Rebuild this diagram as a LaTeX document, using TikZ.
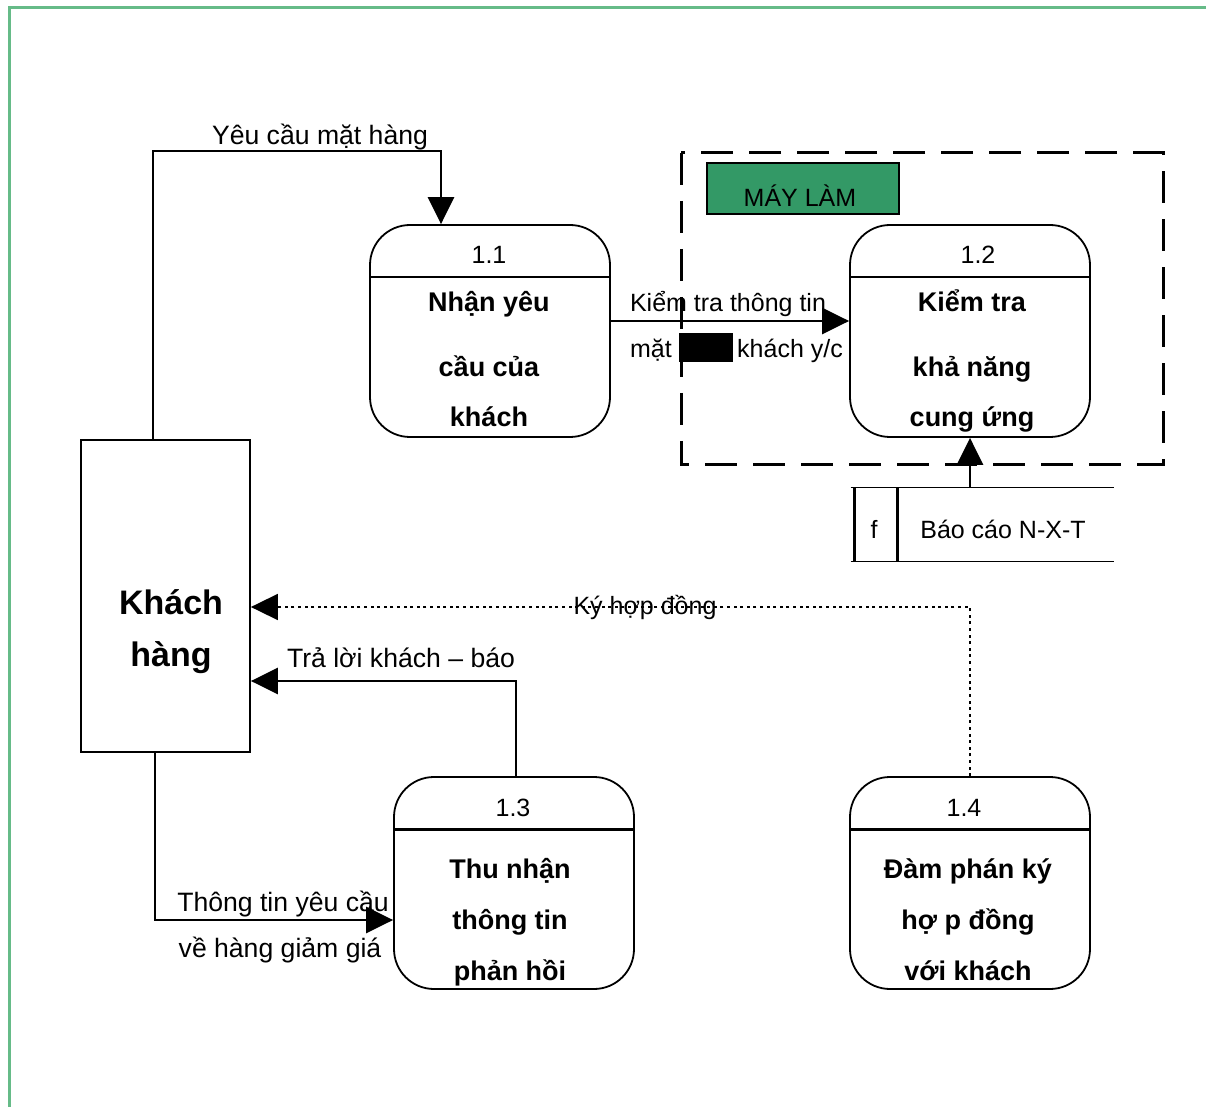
\documentclass[tikz,border=0pt]{standalone}
\usepackage{fontspec}
\setmainfont{Liberation Sans}
\usetikzlibrary{arrows.meta,calc,positioning}
\tikzset{>={Triangle[length=13.5pt,width=13pt]}}
\definecolor{framegreen}{RGB}{102,187,136}
\definecolor{machgreen}{RGB}{51,153,102}
\tikzstyle{proc}=[draw,rounded corners=20pt,minimum width=120pt,minimum height=106pt,line width=0.9pt,inner sep=0]
\tikzstyle{flow}=[line width=1.4pt,->]
\tikzstyle{lbl}=[font=\fontsize{12.5}{15}\selectfont,inner sep=0,text height=9pt,text depth=2.5pt,yshift=-1.5pt]
\tikzstyle{lblbig}=[lbl,font=\fontsize{13.3}{16}\selectfont]
\tikzstyle{ttl}=[font=\bfseries\fontsize{13.5}{16}\selectfont,inner sep=0,text height=9.5pt,text depth=2.5pt,yshift=-1.5pt]

\begin{document}
\begin{tikzpicture}[x=0.5pt,y=-0.5pt]
    \useasboundingbox (0,0) rectangle (1206,1107);
    \draw[framegreen,line width=1.5pt] (9,1107) -- (9,8) -- (1206,8);

    % external entity
    \node[draw,line width=0.9pt,minimum width=84.5pt,minimum height=156pt,inner sep=0] (kh) at (165.5,596) {};
    \node[font=\bfseries\fontsize{17}{20}\selectfont,inner sep=0,yshift=-1pt] (kh1) at (171,600) {Khách};
    \node[font=\bfseries\fontsize{17}{20}\selectfont,inner sep=0,yshift=-1pt] (kh2) at (171,656) {hàng};

    % machine boundary
    \draw[line width=1.5pt,dash pattern=on 16pt off 8pt] (681,153) rectangle (1163,465);
    \node[draw,fill=machgreen,line width=1.2pt,minimum width=96pt,minimum height=25.5pt,inner sep=0] (may) at (803,188.5) {};
    \node[lbl] (maytxt) at (800,197) {MÁY LÀM};

    % processes
    \node[proc] (p11) at (490,331) {};
    \node[proc] (p12) at (970,331) {};
    \node[proc] (p13) at (514,883) {};
    \node[proc] (p14) at (970,883) {};
    \foreach \p in {p11,p12,p13,p14}
        \draw[line width=1.4pt] ($(\p.north west)+(0pt,-26.5pt)$) -- ($(\p.north east)+(0pt,-26.5pt)$);

    \node[lbl] (n11) at (489,254) {1.1};
    \node[ttl] (t11a) at (489,302) {Nhận yêu};
    \node[ttl] (t11b) at (489,367) {cầu của};
    \node[ttl] (t11c) at (489,417) {khách};

    \node[lbl] (n12) at (978,254) {1.2};
    \node[ttl] (t12a) at (972,302) {Kiểm tra};
    \node[ttl] (t12b) at (972,367) {khả năng};
    \node[ttl] (t12c) at (972,417) {cung ứng};

    \node[lbl] (n13) at (513,807) {1.3};
    \node[ttl] (t13a) at (510,868) {Thu nhận};
    \node[ttl] (t13b) at (510,919) {thông tin};
    \node[ttl] (t13c) at (510,970) {phản hồi};

    \node[lbl] (n14) at (964,807) {1.4};
    \node[ttl] (t14a) at (968,868) {Đàm phán ký};
    \node[ttl] (t14b) at (968,919) {hợ p đồng};
    \node[ttl] (t14c) at (968,970) {với khách};

    % data store
    \node[minimum width=131.5pt,minimum height=36.5pt,inner sep=0] (st) at (982.5,524.5) {};
    \draw[line width=0.8pt] (st.north west) -- (st.north east);
    \draw[line width=0.8pt] (st.south west) -- (st.south east);
    \draw[line width=1.4pt] ($(st.north west)+(2pt,0pt)$) -- ($(st.south west)+(2pt,0pt)$);
    \draw[line width=1.4pt] ($(st.north west)+(23.5pt,0pt)$) -- ($(st.south west)+(23.5pt,0pt)$);
    \node[lbl] (stf) at (874,529) {f};
    \node[lbl] (stname) at (1003,529) {Báo cáo N-X-T};

    % flows
    \coordinate (c1) at ($(p11.north)+(-24.5pt,0pt)$);
    \draw[flow] ($(kh.north)+(-6.25pt,0pt)$) |- ($(c1)+(0pt,36.5pt)$) -- (c1);
    \node[lblbig] (f1) at (320,135) {Yêu cầu mặt hàng};

    \draw[flow] ($(p11.east)+(0pt,5pt)$) -- ($(p12.west)+(0pt,5pt)$);
    \node[lbl] (f2a) at (728,302) {Kiểm tra thông tin};
    \node[lbl] (f2b) at (651,348) {mặt};
    \node[fill=black,minimum width=27pt,minimum height=14.5pt,inner sep=0] (f2c) at (706,347.5) {};
    \node[lbl] (f2d) at (790,348) {khách y/c};

    \draw[flow] (st.north -| p12.south) -- (p12.south);

    \draw[flow,line width=0.9pt,dash pattern=on 1.5pt off 1.8pt] (p14.north) |- ($(kh.east)+(0pt,-5.5pt)$);
    \node[lbl] (f3) at (645,605) {Ký hợp đồng};

    \draw[flow] ($(p13.north)+(1pt,0pt)$) |- ($(kh.east)+(0pt,-42.5pt)$);
    \node[lblbig] (f4) at (401,658) {Trả lời khách – báo};

    \draw[flow] ($(kh.south)+(-5.25pt,0pt)$) |- ($(p13.west)+(0pt,-18.5pt)$);
    \node[lblbig] (f5a) at (283,902) {Thông tin yêu cầu};
    \node[lblbig] (f5b) at (280,948) {về hàng giảm giá};

\end{tikzpicture}
\end{document}
